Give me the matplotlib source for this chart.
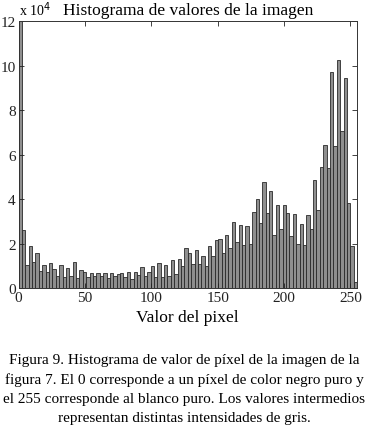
import matplotlib
matplotlib.use("Agg")
import matplotlib.pyplot as plt
import numpy as np

# histogram counts, in units of 10^4 pixels, 100 bins over 0..255
counts_1e4 = [
    12.5, 2.61, 1.04, 1.87, 1.15, 1.59, 0.77, 1.03, 0.73, 1.12,
    0.85, 0.53, 1.02, 0.48, 0.88, 0.55, 1.19, 0.46, 0.82, 0.74,
    0.51, 0.66, 0.53, 0.66, 0.54, 0.66, 0.43, 0.66, 0.54, 0.62,
    0.67, 0.50, 0.74, 0.40, 0.73, 0.58, 0.93, 0.52, 0.73, 0.97,
    0.48, 1.12, 0.48, 1.03, 0.52, 1.24, 0.61, 1.29, 0.98, 1.82,
    1.56, 1.06, 1.70, 1.10, 1.46, 0.97, 1.87, 1.42, 2.15, 2.19,
    1.59, 2.38, 1.82, 2.98, 2.05, 2.82, 1.94, 2.77, 1.97, 3.42,
    3.99, 2.94, 4.78, 3.39, 4.38, 2.38, 3.72, 2.65, 3.75, 3.39,
    2.32, 3.32, 1.96, 2.87, 1.93, 3.27, 2.65, 4.84, 3.50, 5.46,
    6.44, 5.41, 9.70, 6.38, 10.25, 7.08, 9.43, 3.84, 1.87, 0.25,
]
x_ticks = [0, 50, 100, 150, 200, 250]
y_ticks = [0, 2, 4, 6, 8, 10, 12]

title = "Histograma de valores de la imagen"
xlabel = "Valor del pixel"
caption = ("Figura 9. Histograma de valor de píxel de la imagen de la\n"
           "figura 7. El 0 corresponde a un píxel de color negro puro y\n"
           "el 255 corresponde al blanco puro. Los valores intermedios\n"
           "representan distintas intensidades de gris.")

plt.rcParams["font.family"] = ["Liberation Serif", "DejaVu Serif"]

counts = np.array(counts_1e4)
edges = np.linspace(0, 255, len(counts) + 1)

fig = plt.figure(figsize=(3.68, 4.39), dpi=100)
ax = fig.add_axes([0.0503, 0.3417, 0.920, 0.6075])

ax.bar(edges[:-1], counts, width=np.diff(edges), align="edge",
       color="#8f8f8f", edgecolor="#2a2a2a", linewidth=0.6)

ax.set_xlim(0, 255)
ax.set_ylim(0, 12)
ax.set_xticks(x_ticks)
ax.set_yticks(y_ticks)
ax.tick_params(direction="in", top=True, right=True, length=3.5,
               width=0.6, labelsize=11, pad=2, colors="#222222")
for s in ax.spines.values():
    s.set_linewidth(0.7)
    s.set_color("#333333")

ax.set_title(title, fontsize=12.5, pad=5)
ax.set_xlabel(xlabel, fontsize=12.5, labelpad=4)
ax.text(0.0, 1.012, r"x 10$^4$", transform=ax.transAxes, fontsize=10,
        ha="left", va="bottom")

fig.text(0.5, 0.112, caption, ha="center", va="center", fontsize=11,
         linespacing=1.6)

fig.savefig("out.png", dpi=100)
